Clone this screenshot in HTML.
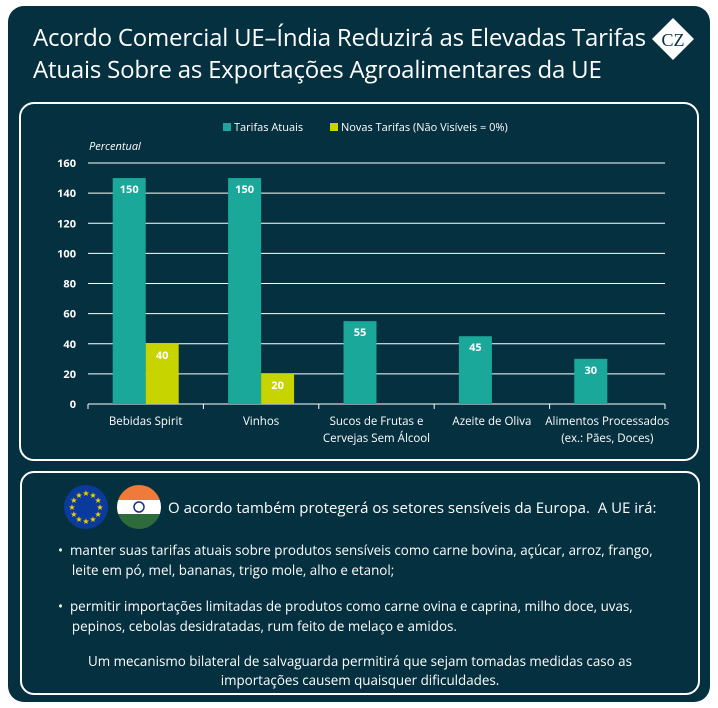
<!DOCTYPE html>
<html><head><meta charset="utf-8"><style>
body{margin:0;width:718px;height:708px;background:#fff;font-family:"Open Sans","Liberation Sans","DejaVu Sans",sans-serif;overflow:hidden}
#panel{position:absolute;left:8px;top:6px;width:702px;height:696px;background:#05303f;border-radius:16px}
.t{position:absolute;color:#fff}
</style></head><body>
<div id="panel"></div>
<div class="t" style="left:33px;top:22px;font-size:24px;line-height:32px;letter-spacing:-0.2px">Acordo Comercial UE–Índia Reduzirá as Elevadas Tarifas<br>Atuais Sobre as Exportações Agroalimentares da UE</div>
<svg style="position:absolute;left:650px;top:16px" width="46" height="46"><polygon points="23,2 44,23 23,44 2,23" fill="#fff"/><text x="23" y="30" font-size="18" font-family="Liberation Serif" text-anchor="middle" fill="#05303f">CZ</text></svg>
<svg style="position:absolute;left:0;top:0" width="718" height="470">
<rect x="20" y="103" width="678" height="357" rx="14" fill="none" stroke="#fff" stroke-width="2"/>
<g id="g"></g>
</svg>
<div style="position:absolute;left:20px;top:471px;width:676px;height:220px;border:2px solid #fff;border-radius:14px"></div>
<svg style="position:absolute;left:64px;top:485px" width="44" height="44"><circle cx="22" cy="22" r="22" fill="#0a3a9c"/><g id="stars"></g></svg>
<svg style="position:absolute;left:117px;top:485px" width="44" height="44"><defs><clipPath id="c"><circle cx="22" cy="22" r="22"/></clipPath></defs><g clip-path="url(#c)"><rect width="44" height="15" fill="#ef7a3a"/><rect y="15" width="44" height="14" fill="#fff"/><rect y="29" width="44" height="15" fill="#2e6b3a"/></g><circle cx="22" cy="22" r="5" fill="none" stroke="#1a2f7a" stroke-width="1.5"/></svg>
<div class="t" style="left:168px;top:498px;font-size:15px">O acordo também protegerá os setores sensíveis da Europa.&nbsp; A UE irá:</div>
<div class="t" style="left:58px;top:540px;font-size:13.4px;line-height:20px">•&nbsp; manter suas tarifas atuais sobre produtos sensíveis como carne bovina, açúcar, arroz, frango,<br>&nbsp;&nbsp;&nbsp;&nbsp;leite em pó, mel, bananas, trigo mole, alho e etanol;</div>
<div class="t" style="left:58px;top:596px;font-size:13.4px;line-height:20px">•&nbsp; permitir importações limitadas de produtos como carne ovina e caprina, milho doce, uvas,<br>&nbsp;&nbsp;&nbsp;&nbsp;pepinos, cebolas desidratadas, rum feito de melaço e amidos.</div>
<div class="t" style="left:30px;width:660px;top:652px;font-size:13.4px;line-height:19px;text-align:center">Um mecanismo bilateral de salvaguarda permitirá que sejam tomadas medidas caso as<br>importações causem quaisquer dificuldades.</div>
<script>
const categories=[["Bebidas Spirit"],["Vinhos"],["Sucos de Frutas e","Cervejas Sem Álcool"],["Azeite de Oliva"],["Alimentos Processados","(ex.: Pães, Doces)"]];
const currentTariffs=[150,150,55,45,30];
const newTariffs=[40,20,null,null,null];
const ticks=[0,20,40,60,80,100,120,140,160];
const ns="http://www.w3.org/2000/svg",g=document.getElementById('g');
const x0=88,x1=665,y0=404,yTop=163,ymax=160;
const y=v=>y0-(v/ymax)*(y0-yTop);
const bw=(x1-x0)/categories.length;
const cx=i=>x0+bw*(i+0.5);
function el(t,a,txt){const e=document.createElementNS(ns,t);for(const k in a)e.setAttribute(k,a[k]);if(txt!=null)e.textContent=txt;g.appendChild(e);return e;}
ticks.forEach(t=>{const l=el('line',{x1:x0,x2:x1,y1:y(t),y2:y(t),stroke:'#fff','stroke-width':1});


const tx=el('text',{x:76,y:y(t)+4,'text-anchor':'end',fill:'#fff','font-size':11,'font-weight':'bold'},t);

});
for(let i=0;i<=categories.length;i++){const l=el('line',{x1:x0+bw*i,x2:x0+bw*i,y1:y0,y2:y0+5,stroke:'#fff'});}
const w=33;
categories.forEach((c,i)=>{
 const v=currentTariffs[i];
 const r=el('rect',{x:cx(i)-w,y:y(v),width:w,height:y0-y(v),fill:'#1aa89a'});
 
 
 const lb=el('text',{x:cx(i)-w/2,y:y(v)+15,'text-anchor':'middle',fill:'#fff','font-size':11,'font-weight':'bold'},v);
 
 
 const n=newTariffs[i];
 if(n!=null){const r2=el('rect',{x:cx(i),y:y(n),width:w,height:y0-y(n),fill:'#c8d400'});
 
 
 const l2=el('text',{x:cx(i)+w/2,y:y(n)+15,'text-anchor':'middle',fill:'#fff','font-size':11,'font-weight':'bold'},n);
 
 }
 c.forEach((s,j)=>{const t=el('text',{x:cx(i),y:425+j*17,'text-anchor':'middle',fill:'#fff','font-size':11.5},s);
 
 });
});
const yt=el('text',{x:89,y:150,fill:'#fff','font-size':11,'font-style':'italic'},'Percentual');


const lg1=el('rect',{x:223,y:123,width:8,height:8,fill:'#1aa89a'});


const lt1=el('text',{x:234,y:131,fill:'#fff','font-size':11},'Tarifas Atuais');


const lg2=el('rect',{x:330,y:123,width:8,height:8,fill:'#c8d400'});


const lt2=el('text',{x:341,y:131,fill:'#fff','font-size':11},'Novas Tarifas (Não Visíveis = 0%)');


const st=document.getElementById('stars');
for(let k=0;k<12;k++){const a=k*Math.PI/6;const t=document.createElementNS(ns,'text');
t.setAttribute('x',22+14*Math.cos(a));t.setAttribute('y',22+14*Math.sin(a)+3);t.setAttribute('text-anchor','middle');t.setAttribute('font-size','8');t.setAttribute('fill','#f5d000');t.textContent='★';


st.appendChild(t);}
</script>
</body></html>
